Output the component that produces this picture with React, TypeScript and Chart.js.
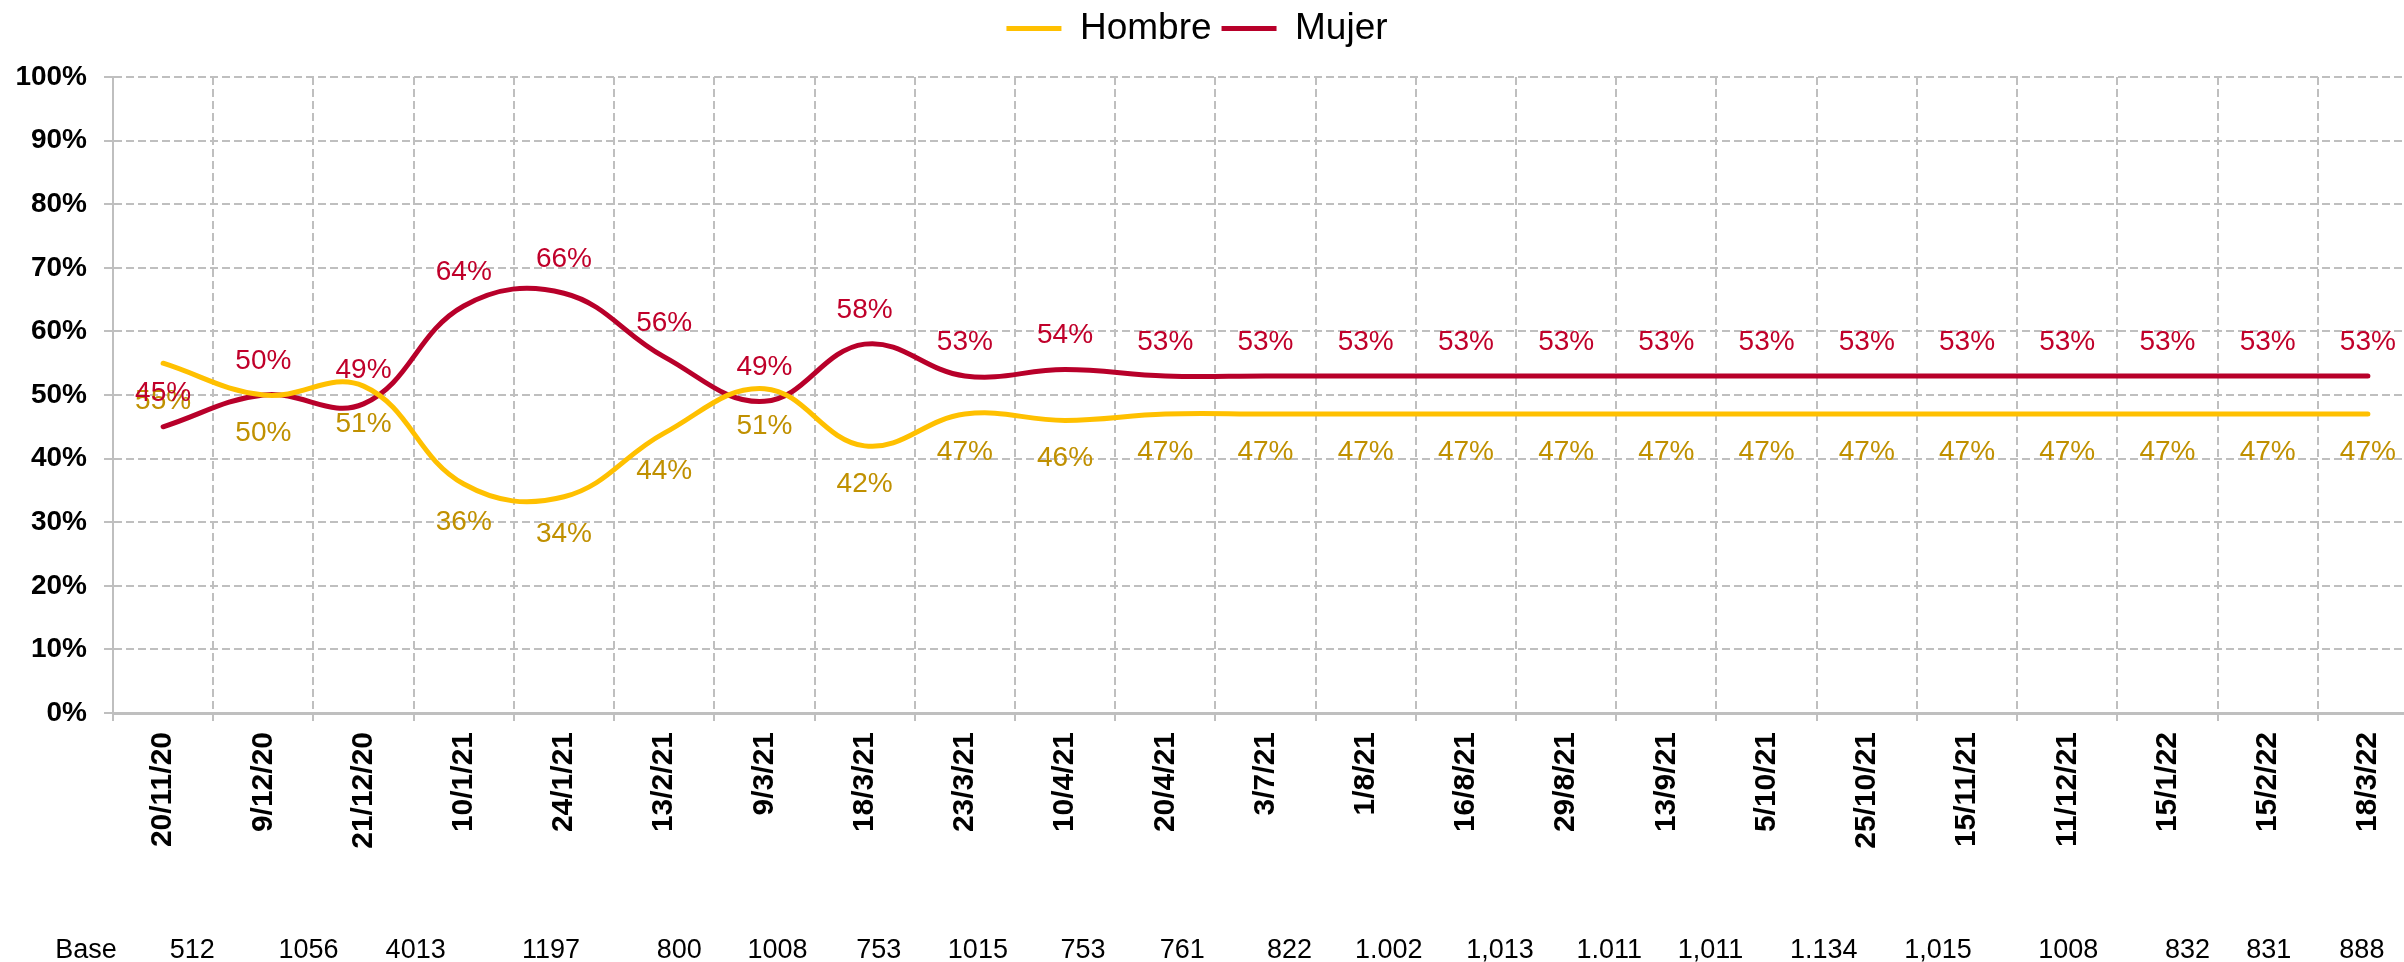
import React, { useEffect, useRef } from "react";
import { Chart, registerables } from "chart.js";

Chart.register(...registerables);

const categories = [
  "20/11/20", "9/12/20", "21/12/20", "10/1/21", "24/1/21", "13/2/21", "9/3/21",
  "18/3/21", "23/3/21", "10/4/21", "20/4/21", "3/7/21", "1/8/21", "16/8/21",
  "29/8/21", "13/9/21", "5/10/21", "25/10/21", "15/11/21", "11/12/21", "15/1/22",
  "15/2/22", "18/3/22",
];
const hombre = [55, 50, 51.4, 36, 34, 44, 51, 42, 47, 46, 47, 47, 47, 47, 47, 47, 47, 47, 47, 47, 47, 47, 47];
const mujer = [45, 50, 48.6, 64, 66, 56, 49, 58, 53, 54, 53, 53, 53, 53, 53, 53, 53, 53, 53, 53, 53, 53, 53];
const seriesNames = ["Hombre", "Mujer"];
const baseTitle = "Base";
const baseValues = [
  "512", "1056", "4013", "1197", "800", "1008", "753", "1015", "753", "761", "822",
  "1.002", "1,013", "1.011", "1,011", "1.134", "1,015", "1008", "832", "831", "888",
];
// category slot (fractional index) under which each base figure is printed
const baseSlots = [0.29, 1.45, 2.52, 3.87, 5.15, 6.13, 7.14, 8.13, 9.18, 10.17, 11.24, 12.23, 13.34, 14.43, 15.44, 16.57, 17.71, 19.01, 20.2, 21.01, 21.94];
const baseTitleSlot = -0.77;

const FONT = "'Liberation Sans', Arial, sans-serif";
const YELLOW = "#FFC000";
const RED = "#B8002A";
const YELLOW_TXT = "#C09000";
const RED_TXT = "#C0002A";
const GRID = "#BFBFBF";

const legendTweak = {
  id: "legendTweak",
  beforeInit(chart: any) {
    const lg = chart.legend;
    if (!lg) return;
    const origFit = lg.fit;
    lg.fit = function () {
      origFit.call(this);
      this.height += 20;
    };
    const origDraw = lg.draw;
    lg.draw = function () {
      const ctx = chart.ctx;
      ctx.save();
      ctx.translate(-12, 0);
      origDraw.call(this);
      ctx.restore();
    };
  },
};

const pointLabels = {
  id: "pointLabels",
  afterDatasetsDraw(chart: any) {
    const ctx = chart.ctx;
    ctx.save();
    ctx.font = `28px ${FONT}`;
    ctx.textAlign = "center";
    ctx.textBaseline = "middle";
    chart.data.datasets.forEach((ds: any, di: number) => {
      const meta = chart.getDatasetMeta(di);
      const below = di === 0;
      ctx.fillStyle = below ? YELLOW_TXT : RED_TXT;
      meta.data.forEach((pt: any, i: number) => {
        const v = ds.data[i];
        const y = below ? pt.y + 38 : pt.y - 34;
        ctx.fillText(Math.round(v) + "%", pt.x, y);
      });
    });
    ctx.restore();
  },
};

const baseRow = {
  id: "baseRow",
  afterDraw(chart: any) {
    const ctx = chart.ctx;
    const xs = chart.scales.x;
    ctx.save();
    ctx.font = `27px ${FONT}`;
    ctx.fillStyle = "#000";
    ctx.textAlign = "center";
    ctx.textBaseline = "middle";
    const y = 951;
    ctx.fillText(baseTitle, xs.getPixelForValue(baseTitleSlot), y);
    baseValues.forEach((t, i) => {
      ctx.fillText(t, xs.getPixelForValue(baseSlots[i]), y);
    });
    ctx.restore();
  },
};

export default function App() {
  const ref = useRef<HTMLCanvasElement | null>(null);
  useEffect(() => {
    if (!ref.current) return;
    const chart = new Chart(ref.current, {
      type: "line",
      data: {
        labels: categories,
        datasets: [
          {
            label: seriesNames[0],
            data: hombre,
            borderColor: YELLOW,
            backgroundColor: YELLOW,
            borderWidth: 5,
            pointRadius: 0,
            tension: 0.4,
            borderCapStyle: "round",
            fill: false,
          },
          {
            label: seriesNames[1],
            data: mujer,
            borderColor: RED,
            backgroundColor: RED,
            borderWidth: 5,
            pointRadius: 0,
            tension: 0.4,
            borderCapStyle: "round",
            fill: false,
          },
        ],
      },
      options: {
        responsive: false,
        animation: false,
        layout: { padding: { top: 0, right: 2, bottom: 0, left: 0 } },
        plugins: {
          legend: {
            position: "top",
            align: "center",
            labels: {
              font: { family: FONT, size: 37 },
              color: "#000",
              usePointStyle: true,
              pointStyle: "line",
              pointStyleWidth: 55,
              boxWidth: 55,
              boxHeight: 7,
              padding: 10,
            },
          },
          tooltip: { enabled: false },
        },
        scales: {
          x: {
            type: "category",
            offset: true,
            grid: {
              offset: true,
              color: GRID,
              lineWidth: 2,
              tickLength: 8,
              tickColor: GRID,
              borderDash: [8, 4],
            } as any,
            border: { display: true, color: GRID, width: 3, dash: [8, 4] } as any,
            ticks: {
              autoSkip: false,
              minRotation: 90,
              maxRotation: 90,
              padding: 11,
              color: "#000",
              font: { family: FONT, size: 30, weight: "bold" },
            },
            afterFit(scale: any) {
              scale.height = 249;
            },
          },
          y: {
            min: 0,
            max: 100,
            grid: {
              color: GRID,
              lineWidth: 2,
              tickLength: 9,
              tickColor: GRID,
              borderDash: [8, 4],
            } as any,
            border: { display: true, color: GRID, width: 2, dash: [8, 4] } as any,
            ticks: {
              stepSize: 10,
              padding: 17,
              color: "#000",
              font: { family: FONT, size: 28, weight: "bold" },
              callback: (v: any) => v + "%",
            },
            afterFit(scale: any) {
              scale.width = 113;
            },
          },
        },
      },
      plugins: [legendTweak, pointLabels, baseRow],
    });
    return () => chart.destroy();
  }, []);

  return (
    <div
      style={{
        position: "fixed",
        left: 0,
        top: 0,
        width: "2404px",
        height: "962px",
        overflow: "hidden",
        background: "#fff",
      }}
    >
      <canvas ref={ref} width={2420} height={962} style={{ display: "block" }} />
    </div>
  );
}
